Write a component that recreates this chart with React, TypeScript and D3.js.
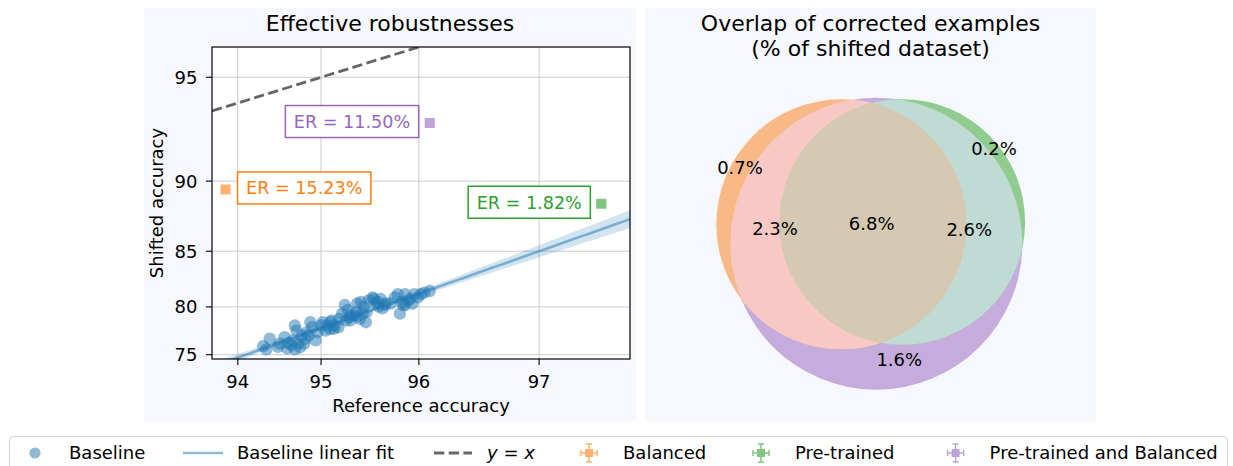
import React, { useEffect, useRef } from 'react';
import * as d3 from 'd3';

const W = 1233;
const H = 466;

// ---------- Data ----------
const baselineRef = [
  94.32, 94.40, 94.36, 94.52, 94.62, 94.61, 94.68, 94.70, 94.72, 94.74,
  94.76, 94.81, 94.84, 94.88, 94.86, 94.90, 94.94, 94.96, 95.02, 95.05,
  95.07, 95.10, 95.12, 95.15, 95.19, 95.20, 95.23, 95.26, 95.27, 95.31,
  95.32, 95.36, 95.38, 95.39, 95.43, 95.45, 95.48, 95.46, 95.51, 95.55,
  95.58, 95.61, 95.63, 95.65, 95.68, 95.73, 95.77, 95.80, 95.82, 95.85,
  95.87, 95.90, 95.94, 95.96, 95.99, 96.02, 96.05, 96.10, 94.66, 94.70,
  94.78, 95.00, 95.14, 95.32, 95.39, 95.49, 95.60, 95.67, 95.87, 95.92,
  95.84, 95.56, 95.42, 95.29, 95.10, 94.82, 94.50, 94.58,
];
const baselineShifted = [
  75.94, 76.74, 75.59, 76.22, 76.28, 75.69, 76.56, 78.13, 77.60, 76.22,
  75.80, 76.22, 77.43, 78.47, 77.08, 77.95, 76.56, 77.43, 78.47, 77.60,
  78.13, 78.47, 78.65, 78.13, 77.95, 78.82, 79.34, 80.18, 78.65, 78.99,
  79.17, 79.17, 79.51, 80.33, 80.48, 79.34, 78.47, 80.03, 80.63, 80.92,
  80.33, 80.03, 80.77, 79.86, 80.33, 80.33, 80.92, 81.22, 79.34, 80.18,
  81.22, 80.63, 80.33, 81.22, 80.92, 81.22, 81.37, 81.52, 76.04, 75.59,
  77.08, 78.13, 77.78, 78.65, 79.06, 79.51, 80.48, 80.18, 80.18, 80.77,
  80.48, 80.77, 78.82, 79.69, 77.78, 76.74, 75.87, 76.91,
];

// linear fit in probit space: probit(shifted) = intercept + slope * probit(ref)
const fitIntercept = -1.1087;
const fitSlope = 1.1405;

const modelNames = ['Balanced', 'Pre-trained', 'Pre-trained and Balanced'];
const modelRef = [93.84, 97.43, 96.1];
const modelShifted = [89.48, 88.54, 93.12];
const modelRefErr = [0.05, 0.026, 0.035];
const modelShiftedErr = [0.1, 0.08, 0.1];
const modelER = [15.23, 1.82, 11.5];
const modelColors = ['#ff7f0e', '#2ca02c', '#9467bd'];
const annotationSide = ['right', 'left', 'left'];

const xTicks = [94, 95, 96, 97];
const yTicks = [75, 80, 85, 90, 95];
const xLim = [93.66, 97.61];
const yLim = [74.52, 96.0];

// Venn (region order: only Balanced, only Pre-trained, only Pre-trained and Balanced,
// Balanced & P+B, Pre-trained & P+B, all three)
const vennValues = [0.7, 0.2, 1.6, 2.3, 2.6, 6.8];
const vennLabelPos = [
  [-1.31, -0.627],
  [1.23, -0.81],
  [0.283, 1.3],
  [-0.96, -0.017],
  [0.983, -0.007],
  [0.007, -0.067],
];
const vennCircles = [
  { cx: -0.297, cy: -0.057, r: 1.25 }, // Balanced
  { cx: 0.313, cy: -0.08, r: 1.228 }, // Pre-trained
  { cx: 0.053, cy: 0.137, r: 1.46 }, // Pre-trained and Balanced
];

const legendLabels = ['Baseline', 'Baseline linear fit', 'y = x', 'Balanced', 'Pre-trained', 'Pre-trained and Balanced'];

// ---------- helpers ----------
function probit(p: number): number {
  const a = [-3.969683028665376e1, 2.209460984245205e2, -2.759285104469687e2, 1.38357751867269e2, -3.066479806614716e1, 2.506628277459239];
  const b = [-5.447609879822406e1, 1.615858368580409e2, -1.556989798598866e2, 6.680131188771972e1, -1.328068155288572e1];
  const c = [-7.784894002430293e-3, -3.223964580411365e-1, -2.400758277161838, -2.549732539343734, 4.374664141464968, 2.938163982698783];
  const d = [7.784695709041462e-3, 3.224671290700398e-1, 2.445134137142996, 3.754408661907416];
  const pl = 0.02425;
  const ph = 1 - pl;
  if (p < pl) {
    const q = Math.sqrt(-2 * Math.log(p));
    return (((((c[0] * q + c[1]) * q + c[2]) * q + c[3]) * q + c[4]) * q + c[5]) / ((((d[0] * q + d[1]) * q + d[2]) * q + d[3]) * q + 1);
  }
  if (p <= ph) {
    const q = p - 0.5;
    const r = q * q;
    return ((((((a[0] * r + a[1]) * r + a[2]) * r + a[3]) * r + a[4]) * r + a[5]) * q) / (((((b[0] * r + b[1]) * r + b[2]) * r + b[3]) * r + b[4]) * r + 1);
  }
  const q = Math.sqrt(-2 * Math.log(1 - p));
  return -(((((c[0] * q + c[1]) * q + c[2]) * q + c[3]) * q + c[4]) * q + c[5]) / ((((d[0] * q + d[1]) * q + d[2]) * q + d[3]) * q + 1);
}

const PANEL_BG = '#f7f8fd';
const FONT = "'DejaVu Sans', sans-serif";

export default function App() {
  const ref = useRef<SVGSVGElement>(null);

  useEffect(() => {
    const svg = d3.select(ref.current as SVGSVGElement);
    svg.selectAll('*').remove();
    svg.attr('font-family', FONT);

    const defs = svg.append('defs');

    svg.append('rect').attr('width', W).attr('height', H).attr('fill', '#ffffff');
    svg.append('rect').attr('x', 144).attr('y', 8).attr('width', 492).attr('height', 413).attr('fill', PANEL_BG);
    svg.append('rect').attr('x', 645).attr('y', 8).attr('width', 451).attr('height', 413).attr('fill', PANEL_BG);

    // ---------- Left panel ----------
    const PL = 212, PR = 630, PT = 47, PB = 359;
    const xP = d3.scaleLinear().domain([probit(xLim[0] / 100), probit(xLim[1] / 100)]).range([PL, PR]);
    const yP = d3.scaleLinear().domain([probit(yLim[0] / 100), probit(yLim[1] / 100)]).range([PB, PT]);
    const x = (v: number) => xP(probit(v / 100));
    const y = (v: number) => yP(probit(v / 100));

    svg.append('text').attr('x', 390).attr('y', 30.5).attr('text-anchor', 'middle')
      .attr('font-size', 22).attr('fill', '#000').text('Effective robustnesses');

    svg.append('rect').attr('x', PL).attr('y', PT).attr('width', PR - PL).attr('height', PB - PT).attr('fill', '#fff');

    defs.append('clipPath').attr('id', 'plotClip').append('rect')
      .attr('x', PL).attr('y', PT).attr('width', PR - PL).attr('height', PB - PT);

    const grid = svg.append('g');
    xTicks.forEach((t) => {
      grid.append('line').attr('x1', x(t)).attr('x2', x(t)).attr('y1', PT).attr('y2', PB)
        .attr('stroke', '#cbcbcb').attr('stroke-width', 1);
    });
    yTicks.forEach((t) => {
      grid.append('line').attr('x1', PL).attr('x2', PR).attr('y1', y(t)).attr('y2', y(t))
        .attr('stroke', '#cbcbcb').attr('stroke-width', 1);
    });

    const plot = svg.append('g').attr('clip-path', 'url(#plotClip)');

    // y = x
    plot.append('line')
      .attr('x1', x(xLim[0])).attr('y1', y(xLim[0]))
      .attr('x2', x(xLim[1])).attr('y2', y(xLim[1]))
      .attr('stroke', '#666666').attr('stroke-width', 2.8).attr('stroke-dasharray', '10.3,4.4');

    // fit band + line (in probit space)
    const px0 = probit(xLim[0] / 100), px1 = probit(xLim[1] / 100);
    const xm = probit(d3.mean(baselineRef)! / 100);
    const samples = d3.range(0, 101).map((i) => px0 + ((px1 - px0) * i) / 100);
    const half = (p: number) => Math.sqrt(0.004 * 0.004 + Math.pow(0.1 * (p - xm), 2));
    const area = d3.area<number>()
      .x((p) => xP(p))
      .y0((p) => yP(fitIntercept + fitSlope * p - half(p)))
      .y1((p) => yP(fitIntercept + fitSlope * p + half(p)));
    plot.append('path').attr('d', area(samples)!).attr('fill', '#1f77b4').attr('fill-opacity', 0.2);
    const line = d3.line<number>().x((p) => xP(p)).y((p) => yP(fitIntercept + fitSlope * p));
    plot.append('path').attr('d', line(samples)!).attr('fill', 'none')
      .attr('stroke', '#1f77b4').attr('stroke-opacity', 0.5).attr('stroke-width', 2.6);

    // scatter
    baselineRef.forEach((r, i) => {
      plot.append('circle').attr('cx', x(r)).attr('cy', y(baselineShifted[i])).attr('r', 6.2)
        .attr('fill', '#1f77b4').attr('fill-opacity', 0.5);
    });

    const errMarker = (g: any, cx: number, cy: number, color: string, hx: number, hy: number, cap: number, sq: number) => {
      const m = g.append('g').attr('opacity', 0.6);
      m.append('rect').attr('x', cx - sq / 2).attr('y', cy - sq / 2).attr('width', sq).attr('height', sq).attr('fill', color);
      const st = (l: any) => l.attr('stroke', color).attr('stroke-width', 1.5);
      st(m.append('line').attr('x1', cx - hx).attr('x2', cx + hx).attr('y1', cy).attr('y2', cy));
      st(m.append('line').attr('x1', cx - hx).attr('x2', cx - hx).attr('y1', cy - cap).attr('y2', cy + cap));
      st(m.append('line').attr('x1', cx + hx).attr('x2', cx + hx).attr('y1', cy - cap).attr('y2', cy + cap));
      st(m.append('line').attr('x1', cx).attr('x2', cx).attr('y1', cy - hy).attr('y2', cy + hy));
      st(m.append('line').attr('x1', cx - cap).attr('x2', cx + cap).attr('y1', cy - hy).attr('y2', cy - hy));
      st(m.append('line').attr('x1', cx - cap).attr('x2', cx + cap).attr('y1', cy + hy).attr('y2', cy + hy));
    };

    // model points
    modelNames.forEach((_, i) => {
      const cx = x(modelRef[i]);
      const cy = y(modelShifted[i]);
      const hx = Math.abs(x(modelRef[i] + modelRefErr[i]) - cx);
      const hy = Math.abs(y(modelShifted[i] + modelShiftedErr[i]) - cy);
      errMarker(svg, cx, cy, modelColors[i], hx, hy, 3.5, 10);
    });

    // annotations
    modelNames.forEach((_, i) => {
      const cx = x(modelRef[i]);
      const cy = y(modelShifted[i]) - 1.5;
      const g = svg.append('g');
      const rect = g.append('rect');
      const txt = g.append('text').attr('font-size', 17.6).attr('fill', modelColors[i])
        .attr('dy', '0.36em').attr('y', cy).text(`ER = ${modelER[i].toFixed(2)}%`);
      const tw = (txt.node() as SVGTextElement).getComputedTextLength();
      const pad = 8.5;
      let bx: number;
      if (annotationSide[i] === 'left') {
        bx = cx - 11 - tw - 2 * pad;
      } else {
        bx = cx + 12;
      }
      txt.attr('x', bx + pad);
      rect.attr('x', bx).attr('y', cy - 16).attr('width', tw + 2 * pad).attr('height', 32)
        .attr('fill', '#fff').attr('stroke', modelColors[i]).attr('stroke-width', 1.5);
    });

    // frame
    svg.append('rect').attr('x', PL).attr('y', PT).attr('width', PR - PL).attr('height', PB - PT)
      .attr('fill', 'none').attr('stroke', '#000').attr('stroke-width', 1.2);

    // ticks
    xTicks.forEach((t) => {
      svg.append('line').attr('x1', x(t)).attr('x2', x(t)).attr('y1', PB).attr('y2', PB + 6).attr('stroke', '#000').attr('stroke-width', 1.1);
      svg.append('text').attr('x', x(t)).attr('y', 388).attr('text-anchor', 'middle').attr('font-size', 18).text(String(t));
    });
    yTicks.forEach((t) => {
      svg.append('line').attr('x1', PL - 6).attr('x2', PL).attr('y1', y(t)).attr('y2', y(t)).attr('stroke', '#000').attr('stroke-width', 1.1);
      svg.append('text').attr('x', 197.5).attr('y', y(t)).attr('dy', '0.36em').attr('text-anchor', 'end').attr('font-size', 18).text(String(t));
    });
    svg.append('text').attr('x', (PL + PR) / 2).attr('y', 412).attr('text-anchor', 'middle').attr('font-size', 18).text('Reference accuracy');
    svg.append('text').attr('transform', `translate(163.3,${(PT + PB) / 2}) rotate(-90)`)
      .attr('text-anchor', 'middle').attr('font-size', 18).text('Shifted accuracy');

    // ---------- Venn ----------
    svg.append('text').attr('x', 870.5).attr('y', 30.5).attr('text-anchor', 'middle').attr('font-size', 22).text('Overlap of corrected examples');
    svg.append('text').attr('x', 870.5).attr('y', 56).attr('text-anchor', 'middle').attr('font-size', 22).text('(% of shifted dataset)');

    const vx = d3.scaleLinear().domain([-1, 1]).range([771, 971]);
    const vy = d3.scaleLinear().domain([-1, 1]).range([130, 330]);
    const vr = (r: number) => r * 100;
    const ids = ['vcO', 'vcG', 'vcP'];
    vennCircles.forEach((c, i) => {
      defs.append('clipPath').attr('id', ids[i]).append('circle').attr('cx', vx(c.cx)).attr('cy', vy(c.cy)).attr('r', vr(c.r));
    });
    const circ = (g: any, i: number, fill: string) =>
      g.append('circle').attr('cx', vx(vennCircles[i].cx)).attr('cy', vy(vennCircles[i].cy)).attr('r', vr(vennCircles[i].r)).attr('fill', fill);
    const vg = svg.append('g');
    circ(vg, 2, '#c5acdc');
    circ(vg, 0, '#f9b986');
    circ(vg, 1, '#90cc90');
    circ(vg.append('g').attr('clip-path', 'url(#vcP)'), 0, '#f8c9c4');
    circ(vg.append('g').attr('clip-path', 'url(#vcP)'), 1, '#c0dbd4');
    circ(vg.append('g').attr('clip-path', 'url(#vcG)'), 0, '#cdc79c');
    circ(vg.append('g').attr('clip-path', 'url(#vcP)').append('g').attr('clip-path', 'url(#vcG)'), 0, '#d5c9b3');

    vennValues.forEach((v, i) => {
      svg.append('text').attr('x', vx(vennLabelPos[i][0])).attr('y', vy(vennLabelPos[i][1]))
        .attr('dy', '0.36em').attr('text-anchor', 'middle').attr('font-size', 18).text(`${v.toFixed(1)}%`);
    });

    // ---------- Legend ----------
    const LY = 453;
    svg.append('rect').attr('x', 9.5).attr('y', 436.5).attr('width', 1218).attr('height', 50).attr('rx', 4)
      .attr('fill', '#fff').attr('stroke', '#d4d4d4').attr('stroke-width', 1);
    const centers = [35, 203, 453, 589, 761, 955.6];
    svg.append('circle').attr('cx', centers[0]).attr('cy', LY).attr('r', 5.6).attr('fill', '#1f77b4').attr('fill-opacity', 0.5);
    svg.append('line').attr('x1', centers[1] - 20).attr('x2', centers[1] + 20).attr('y1', LY).attr('y2', LY)
      .attr('stroke', '#1f77b4').attr('stroke-opacity', 0.5).attr('stroke-width', 2.6);
    svg.append('line').attr('x1', centers[2] - 19).attr('x2', centers[2] + 19).attr('y1', LY).attr('y2', LY)
      .attr('stroke', '#666666').attr('stroke-width', 2.8).attr('stroke-dasharray', '10.3,4.4');
    [3, 4, 5].forEach((k, i) => errMarker(svg, centers[k], LY, modelColors[i], 8, 9, 3, 8));
    legendLabels.forEach((lab, i) => {
      const t = svg.append('text').attr('x', centers[i] + 34).attr('y', LY).attr('dy', '0.36em').attr('font-size', 18);
      if (lab === 'y = x') {
        t.append('tspan').attr('font-style', 'italic').text('y');
        t.append('tspan').text(' = ');
        t.append('tspan').attr('font-style', 'italic').text('x');
      } else {
        t.text(lab);
      }
    });
  }, []);

  return <svg ref={ref} width={W} height={H} style={{ position: 'absolute', left: 0, top: 0, display: 'block' }} />;
}
